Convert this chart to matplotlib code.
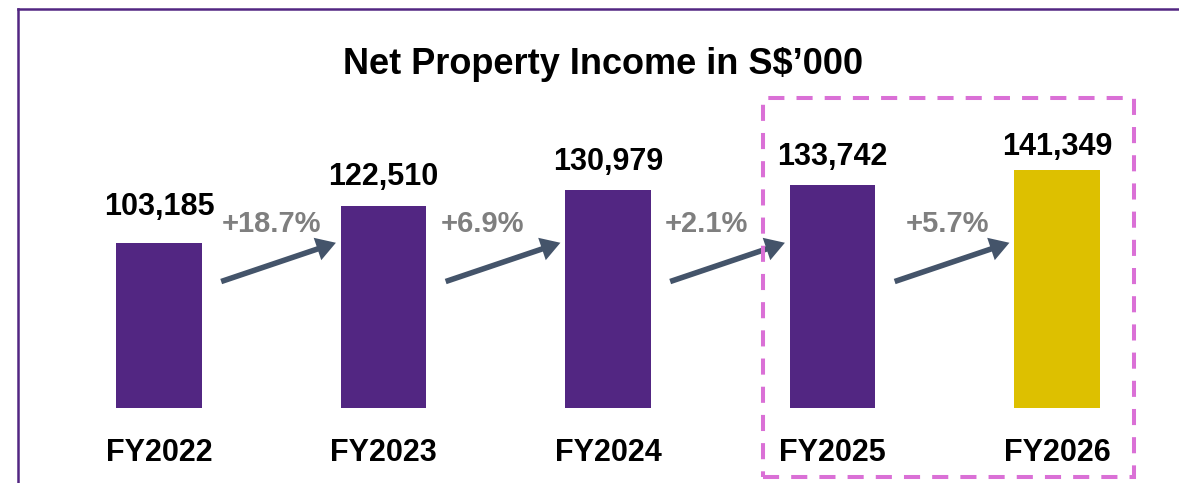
import matplotlib
matplotlib.use("Agg")
import matplotlib.pyplot as plt
from matplotlib import transforms
from matplotlib.patches import Rectangle
from matplotlib.lines import Line2D

plt.rcParams['font.family'] = ['Liberation Sans', 'DejaVu Sans']

# ---- data ----
categories = ["FY2022", "FY2023", "FY2024", "FY2025", "FY2026"]
values = [103185, 122510, 130979, 133742, 141349]
value_labels = ["103,185", "122,510", "130,979", "133,742", "141,349"]
growth_labels = ["+18.7%", "+6.9%", "+2.1%", "+5.7%"]
title = "Net Property Income in S$\u2019000"

# ---- styling / layout ----
PURPLE = "#522682"
YELLOW = "#DDC000"
ARROW = "#44546A"
GREY = "#7F7F7F"
PINK = "#DA70D6"
W, H = 1179, 483

fig = plt.figure(figsize=(W / 100, H / 100), dpi=100)
base_px = 75
ax = fig.add_axes([0, base_px / H, 1, (H - base_px) / H])
ax.set_xlim(-159 / 224.5, (W - 159) / 224.5)
ax.set_ylim(16933, 16933 + (H - base_px) / 0.001913)
for s in ax.spines.values():
    s.set_visible(False)

x = list(range(len(categories)))
colors = [PURPLE] * (len(values) - 1) + [YELLOW]
ax.bar(x, values, width=0.383, color=colors)

ax.set_xticks(x)
ax.set_xticklabels(categories, fontsize=22, fontweight='bold')
ax.tick_params(axis='x', length=0, pad=21.5)
ax.set_yticks([])

# value labels above bars (offsets in points)
label_offsets = [20, 15, 14.4, 14, 10.8]
for xi, v, lab, off in zip(x, values, value_labels, label_offsets):
    ax.annotate(lab, xy=(xi, v), xytext=(0, off), textcoords='offset points',
                ha='center', va='baseline', fontsize=22, fontweight='bold',
                color='black')

# growth arrows and labels
bt = transforms.blended_transform_factory(ax.transData, ax.transAxes)
growth_x = [0.503, 0.443, 0.44, 0.512]
for i, g in enumerate(growth_labels):
    ax.annotate("", xy=(i + 0.788, 0.405), xycoords=bt,
                xytext=(i + 0.277, 0.31), textcoords=bt,
                arrowprops=dict(arrowstyle="simple,head_length=0.7,head_width=0.85,tail_width=0.2",
                                mutation_scale=20, color=ARROW, lw=0,
                                shrinkA=0, shrinkB=0))
    ax.text(i + growth_x[i], 0.452, g, transform=bt, ha='center', va='center',
            fontsize=21, fontweight='bold', color=GREY)

# title
fig.text(603 / W, 1 - 65 / H, title, ha='center', va='center',
         fontsize=26, fontweight='bold', color='black')

# dashed highlight box around the last two bars
bf = transforms.blended_transform_factory(ax.transData, fig.transFigure)
box = Rectangle((3 - 0.31, 1 - 477 / H), (4 + 0.343) - (3 - 0.31), (477 - 98) / H,
                transform=bf, fill=False, edgecolor=PINK, lw=2.9,
                linestyle=(0, (4, 3)), clip_on=False)
fig.add_artist(box)

# frame lines (top and left)
fig.add_artist(Line2D([17.5 / W, 1], [1 - 9 / H, 1 - 9 / H], transform=fig.transFigure,
                      color=PURPLE, lw=1.8))
fig.add_artist(Line2D([17.5 / W, 17.5 / W], [0, 1 - 9 / H], transform=fig.transFigure,
                      color=PURPLE, lw=1.8))

fig.savefig("out.png", dpi=100)
